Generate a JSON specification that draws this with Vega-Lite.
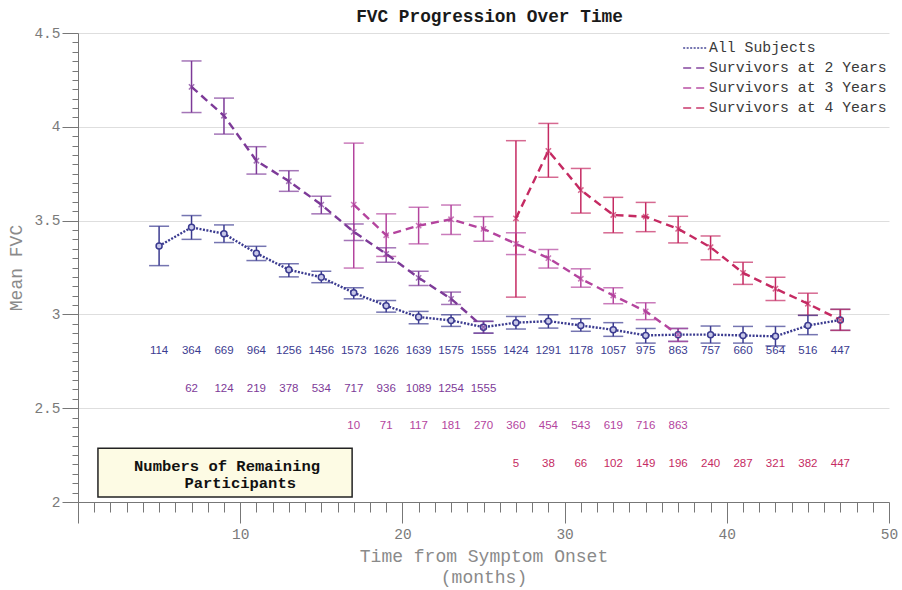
{
  "$schema": "https://vega.github.io/schema/vega-lite/v6.json",
  "width": 811,
  "height": 469,
  "autosize": {"type": "none"},
  "padding": {"left": 78, "top": 33, "right": 13, "bottom": 88},
  "background": "white",
  "title": {"text": "FVC Progression Over Time", "font": "Liberation Mono", "fontSize": 17.8, "fontWeight": "bold", "color": "#1a1a1a", "anchor": "middle", "offset": -2, "dx": 6},
  "config": {
    "view": {"stroke": null},
    "font": "Liberation Mono",
    "legend": {"orient": "top-right", "offset": -9, "title": null, "labelFont": "Liberation Mono", "labelFontSize": 14.8, "labelColor": "#3a3a3a", "labelLimit": 400, "symbolType": "stroke", "symbolStrokeWidth": 2.2, "symbolSize": 560, "rowPadding": -6, "labelOffset": 1, "padding": 11}
  },
  "datasets": {
    "series": [
      {"series": "All Subjects", "month": 5, "fvc": 3.365, "lo": 3.26, "hi": 3.47, "n": 114},
      {"series": "All Subjects", "month": 7, "fvc": 3.464, "lo": 3.4, "hi": 3.527, "n": 364},
      {"series": "All Subjects", "month": 9, "fvc": 3.43, "lo": 3.383, "hi": 3.477, "n": 669},
      {"series": "All Subjects", "month": 11, "fvc": 3.326, "lo": 3.287, "hi": 3.363, "n": 964},
      {"series": "All Subjects", "month": 13, "fvc": 3.238, "lo": 3.2, "hi": 3.27, "n": 1256},
      {"series": "All Subjects", "month": 15, "fvc": 3.198, "lo": 3.169, "hi": 3.23, "n": 1456},
      {"series": "All Subjects", "month": 17, "fvc": 3.115, "lo": 3.083, "hi": 3.142, "n": 1573},
      {"series": "All Subjects", "month": 19, "fvc": 3.046, "lo": 3.012, "hi": 3.074, "n": 1626},
      {"series": "All Subjects", "month": 21, "fvc": 2.986, "lo": 2.95, "hi": 3.016, "n": 1639},
      {"series": "All Subjects", "month": 23, "fvc": 2.968, "lo": 2.936, "hi": 2.998, "n": 1575},
      {"series": "All Subjects", "month": 25, "fvc": 2.932, "lo": 2.9, "hi": 2.963, "n": 1555},
      {"series": "All Subjects", "month": 27, "fvc": 2.956, "lo": 2.922, "hi": 2.989, "n": 1424},
      {"series": "All Subjects", "month": 29, "fvc": 2.964, "lo": 2.927, "hi": 2.998, "n": 1291},
      {"series": "All Subjects", "month": 31, "fvc": 2.941, "lo": 2.91, "hi": 2.977, "n": 1178},
      {"series": "All Subjects", "month": 33, "fvc": 2.918, "lo": 2.883, "hi": 2.956, "n": 1057},
      {"series": "All Subjects", "month": 35, "fvc": 2.888, "lo": 2.847, "hi": 2.925, "n": 975},
      {"series": "All Subjects", "month": 37, "fvc": 2.892, "lo": 2.856, "hi": 2.925, "n": 863},
      {"series": "All Subjects", "month": 39, "fvc": 2.892, "lo": 2.847, "hi": 2.938, "n": 757},
      {"series": "All Subjects", "month": 41, "fvc": 2.888, "lo": 2.847, "hi": 2.936, "n": 660},
      {"series": "All Subjects", "month": 43, "fvc": 2.883, "lo": 2.832, "hi": 2.936, "n": 564},
      {"series": "All Subjects", "month": 45, "fvc": 2.941, "lo": 2.892, "hi": 2.995, "n": 516},
      {"series": "All Subjects", "month": 47, "fvc": 2.97, "lo": 2.915, "hi": 3.027, "n": 447},
      {"series": "Survivors at 2 Years", "month": 7, "fvc": 4.213, "lo": 4.076, "hi": 4.351, "n": 62},
      {"series": "Survivors at 2 Years", "month": 9, "fvc": 4.059, "lo": 3.961, "hi": 4.153, "n": 124},
      {"series": "Survivors at 2 Years", "month": 11, "fvc": 3.819, "lo": 3.748, "hi": 3.894, "n": 219},
      {"series": "Survivors at 2 Years", "month": 13, "fvc": 3.71, "lo": 3.656, "hi": 3.766, "n": 378},
      {"series": "Survivors at 2 Years", "month": 15, "fvc": 3.585, "lo": 3.536, "hi": 3.63, "n": 534},
      {"series": "Survivors at 2 Years", "month": 17, "fvc": 3.44, "lo": 3.394, "hi": 3.482, "n": 717},
      {"series": "Survivors at 2 Years", "month": 19, "fvc": 3.323, "lo": 3.278, "hi": 3.355, "n": 936},
      {"series": "Survivors at 2 Years", "month": 21, "fvc": 3.195, "lo": 3.154, "hi": 3.23, "n": 1089},
      {"series": "Survivors at 2 Years", "month": 23, "fvc": 3.083, "lo": 3.053, "hi": 3.119, "n": 1254},
      {"series": "Survivors at 2 Years", "month": 25, "fvc": 2.932, "lo": 2.9, "hi": 2.963, "n": 1555},
      {"series": "Survivors at 3 Years", "month": 17, "fvc": 3.585, "lo": 3.247, "hi": 3.913, "n": 10},
      {"series": "Survivors at 3 Years", "month": 19, "fvc": 3.422, "lo": 3.309, "hi": 3.536, "n": 71},
      {"series": "Survivors at 3 Years", "month": 21, "fvc": 3.473, "lo": 3.376, "hi": 3.571, "n": 117},
      {"series": "Survivors at 3 Years", "month": 23, "fvc": 3.507, "lo": 3.426, "hi": 3.583, "n": 181},
      {"series": "Survivors at 3 Years", "month": 25, "fvc": 3.456, "lo": 3.39, "hi": 3.521, "n": 270},
      {"series": "Survivors at 3 Years", "month": 27, "fvc": 3.376, "lo": 3.319, "hi": 3.435, "n": 360},
      {"series": "Survivors at 3 Years", "month": 29, "fvc": 3.3, "lo": 3.247, "hi": 3.346, "n": 454},
      {"series": "Survivors at 3 Years", "month": 31, "fvc": 3.19, "lo": 3.145, "hi": 3.243, "n": 543},
      {"series": "Survivors at 3 Years", "month": 33, "fvc": 3.101, "lo": 3.057, "hi": 3.142, "n": 619},
      {"series": "Survivors at 3 Years", "month": 35, "fvc": 3.016, "lo": 2.972, "hi": 3.062, "n": 716},
      {"series": "Survivors at 3 Years", "month": 37, "fvc": 2.892, "lo": 2.856, "hi": 2.925, "n": 863},
      {"series": "Survivors at 4 Years", "month": 27, "fvc": 3.512, "lo": 3.092, "hi": 3.926, "n": 5},
      {"series": "Survivors at 4 Years", "month": 29, "fvc": 3.872, "lo": 3.731, "hi": 4.018, "n": 38},
      {"series": "Survivors at 4 Years", "month": 31, "fvc": 3.663, "lo": 3.54, "hi": 3.778, "n": 66},
      {"series": "Survivors at 4 Years", "month": 33, "fvc": 3.53, "lo": 3.435, "hi": 3.624, "n": 102},
      {"series": "Survivors at 4 Years", "month": 35, "fvc": 3.521, "lo": 3.441, "hi": 3.597, "n": 149},
      {"series": "Survivors at 4 Years", "month": 37, "fvc": 3.456, "lo": 3.381, "hi": 3.523, "n": 196},
      {"series": "Survivors at 4 Years", "month": 39, "fvc": 3.358, "lo": 3.291, "hi": 3.418, "n": 240},
      {"series": "Survivors at 4 Years", "month": 41, "fvc": 3.221, "lo": 3.16, "hi": 3.278, "n": 287},
      {"series": "Survivors at 4 Years", "month": 43, "fvc": 3.137, "lo": 3.074, "hi": 3.198, "n": 321},
      {"series": "Survivors at 4 Years", "month": 45, "fvc": 3.057, "lo": 2.995, "hi": 3.113, "n": 382},
      {"series": "Survivors at 4 Years", "month": 47, "fvc": 2.97, "lo": 2.915, "hi": 3.027, "n": 447}
    ],
    "note": [{"line1": "Numbers of Remaining", "line2": "Participants"}]
  },
  "layer": [
    {
      "data": {"name": "series"},
      "mark": {"type": "rule", "strokeWidth": 1.5},
      "encoding": {
        "x": {
          "field": "month", "type": "quantitative",
          "scale": {"domain": [0, 50], "nice": false, "zero": false},
          "axis": {
            "title": ["Time from Symptom Onset", "(months)"],
            "titleFont": "Liberation Mono", "titleFontSize": 18, "titleFontWeight": "normal", "titleColor": "#8a8a8a", "titlePadding": 7, "titleLineHeight": 21,
            "tickCount": 50, "labelOverlap": false, "labelFlush": false,
            "labelExpr": "datum.value % 10 === 0 && datum.value > 0 ? datum.label : ''",
            "labelFont": "Liberation Mono", "labelFontSize": 14.5, "labelColor": "#7a7a7a", "labelPadding": 4,
            "tickSize": {"condition": {"test": "datum.value % 10 === 0", "value": 21}, "value": 10},
            "tickColor": "#777777", "domainColor": "#777777", "grid": false
          }
        },
        "y": {
          "field": "lo", "type": "quantitative",
          "scale": {"domain": [2, 4.5], "nice": false, "zero": false},
          "axis": {
            "title": "Mean FVC", "titleFont": "Liberation Mono", "titleFontSize": 18, "titleFontWeight": "normal", "titleColor": "#8a8a8a", "titlePadding": 8,
            "tickCount": 50, "labelOverlap": false, "labelFlush": false,
            "labelExpr": "abs(datum.value * 2 - round(datum.value * 2)) < 0.001 ? '' + round(datum.value * 10) / 10 : ''",
            "labelFont": "Liberation Mono", "labelFontSize": 14.5, "labelColor": "#7a7a7a", "labelPadding": 2,
            "tickSize": {"condition": {"test": "abs(datum.value * 2 - round(datum.value * 2)) < 0.001", "value": 16}, "value": 6},
            "tickColor": "#777777", "domainColor": "#777777",
            "grid": true, "gridColor": "#dedede",
            "gridOpacity": {"condition": {"test": "abs(datum.value * 2 - round(datum.value * 2)) < 0.001", "value": 1}, "value": 0}
          }
        },
        "y2": {"field": "hi"},
        "color": {
          "field": "series", "type": "nominal",
          "scale": {"domain": ["All Subjects", "Survivors at 2 Years", "Survivors at 3 Years", "Survivors at 4 Years"], "range": ["#3b3b90", "#7d3a98", "#b4449e", "#c52a62"]}
        }
      }
    },
    {
      "data": {"name": "series"},
      "mark": {"type": "tick", "orient": "horizontal", "size": 20, "thickness": 1.5},
      "encoding": {
        "x": {"field": "month", "type": "quantitative"},
        "y": {"field": "lo", "type": "quantitative"},
        "color": {"field": "series", "type": "nominal"}
      }
    },
    {
      "data": {"name": "series"},
      "mark": {"type": "tick", "orient": "horizontal", "size": 20, "thickness": 1.5},
      "encoding": {
        "x": {"field": "month", "type": "quantitative"},
        "y": {"field": "hi", "type": "quantitative"},
        "color": {"field": "series", "type": "nominal"}
      }
    },
    {
      "data": {"name": "series"},
      "mark": {"type": "line", "strokeWidth": 2.4},
      "encoding": {
        "x": {"field": "month", "type": "quantitative"},
        "y": {"field": "fvc", "type": "quantitative"},
        "color": {"field": "series", "type": "nominal"},
        "strokeDash": {
          "field": "series", "type": "nominal",
          "scale": {"domain": ["All Subjects", "Survivors at 2 Years", "Survivors at 3 Years", "Survivors at 4 Years"], "range": [[2, 1.5], [8, 5], [8, 5], [8, 5]]}
        }
      }
    },
    {
      "data": {"name": "series"},
      "transform": [{"filter": "datum.series === 'All Subjects'"}],
      "mark": {"type": "point", "shape": "circle", "filled": false, "size": 36, "strokeWidth": 1.5, "fill": "#c8c8e8", "fillOpacity": 1},
      "encoding": {
        "x": {"field": "month", "type": "quantitative"},
        "y": {"field": "fvc", "type": "quantitative"},
        "color": {"field": "series", "type": "nominal"}
      }
    },
    {
      "data": {"name": "series"},
      "transform": [{"filter": "datum.series !== 'All Subjects'"}],
      "mark": {"type": "point", "shape": "M-1,-1L1,1M-1,1L1,-1", "filled": false, "size": 28, "strokeWidth": 1.5},
      "encoding": {
        "x": {"field": "month", "type": "quantitative"},
        "y": {"field": "fvc", "type": "quantitative"},
        "color": {"field": "series", "type": "nominal"}
      }
    },
    {
      "data": {"name": "series"},
      "transform": [{"filter": "datum.series === 'All Subjects'"}],
      "mark": {"type": "text", "font": "Liberation Sans", "fontSize": 11.5, "baseline": "middle", "align": "center"},
      "encoding": {
        "x": {"field": "month", "type": "quantitative"},
        "y": {"datum": 2.803},
        "text": {"field": "n", "type": "quantitative"},
        "color": {"field": "series", "type": "nominal"}
      }
    },
    {
      "data": {"name": "series"},
      "transform": [{"filter": "datum.series === 'Survivors at 2 Years'"}],
      "mark": {"type": "text", "font": "Liberation Sans", "fontSize": 11.5, "baseline": "middle", "align": "center"},
      "encoding": {
        "x": {"field": "month", "type": "quantitative"},
        "y": {"datum": 2.601},
        "text": {"field": "n", "type": "quantitative"},
        "color": {"field": "series", "type": "nominal"}
      }
    },
    {
      "data": {"name": "series"},
      "transform": [{"filter": "datum.series === 'Survivors at 3 Years'"}],
      "mark": {"type": "text", "font": "Liberation Sans", "fontSize": 11.5, "baseline": "middle", "align": "center"},
      "encoding": {
        "x": {"field": "month", "type": "quantitative"},
        "y": {"datum": 2.404},
        "text": {"field": "n", "type": "quantitative"},
        "color": {"field": "series", "type": "nominal"}
      }
    },
    {
      "data": {"name": "series"},
      "transform": [{"filter": "datum.series === 'Survivors at 4 Years'"}],
      "mark": {"type": "text", "font": "Liberation Sans", "fontSize": 11.5, "baseline": "middle", "align": "center"},
      "encoding": {
        "x": {"field": "month", "type": "quantitative"},
        "y": {"datum": 2.202},
        "text": {"field": "n", "type": "quantitative"},
        "color": {"field": "series", "type": "nominal"}
      }
    },
    {
      "data": {"name": "note"},
      "mark": {"type": "rect", "fill": "#fdfbe4", "stroke": "#222222", "strokeWidth": 1.5},
      "encoding": {
        "x": {"datum": 1.23, "type": "quantitative"},
        "x2": {"datum": 16.9},
        "y": {"datum": 2.287, "type": "quantitative"},
        "y2": {"datum": 2.027}
      }
    },
    {
      "data": {"name": "note"},
      "mark": {"type": "text", "font": "Liberation Mono", "fontWeight": "bold", "fontSize": 15.5, "color": "#111111", "align": "center", "baseline": "middle"},
      "encoding": {
        "x": {"datum": 9.19, "type": "quantitative"},
        "y": {"datum": 2.191, "type": "quantitative"},
        "text": {"field": "line1"}
      }
    },
    {
      "data": {"name": "note"},
      "mark": {"type": "text", "font": "Liberation Mono", "fontWeight": "bold", "fontSize": 15.5, "color": "#111111", "align": "center", "baseline": "middle"},
      "encoding": {
        "x": {"datum": 10.0, "type": "quantitative"},
        "y": {"datum": 2.101, "type": "quantitative"},
        "text": {"field": "line2"}
      }
    }
  ]
}
